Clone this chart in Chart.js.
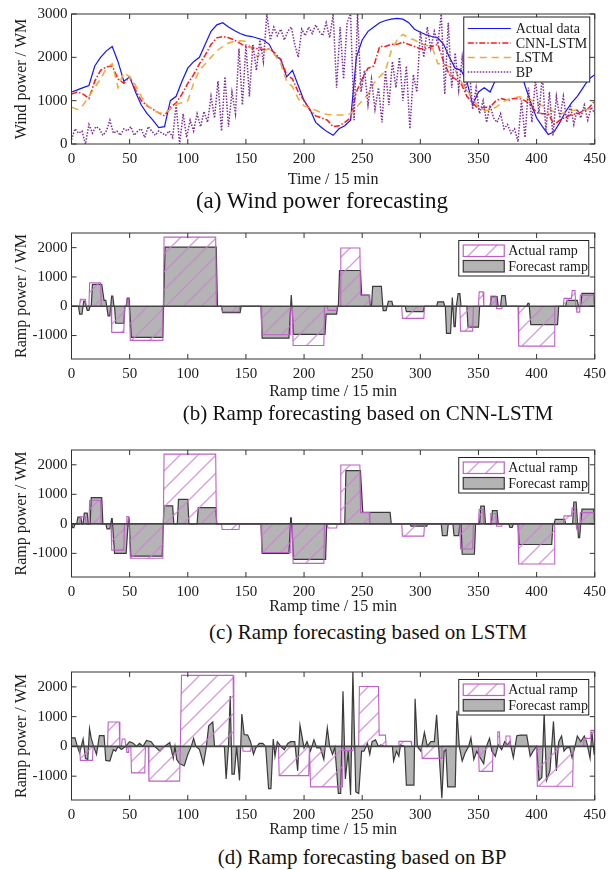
<!DOCTYPE html>
<html lang="en">
<head>
  <meta charset="UTF-8" />
  <title>Wind power and ramp forecasting</title>
  <script src="https://cdn.jsdelivr.net/npm/chart.js"></script>
  <style>
    body { margin: 0; background: #fff; }
    .wrap { position: relative; width: 612px; height: 870px; overflow: hidden; }
    .wrap canvas { position: absolute; left: 0; }
    .caption {
      position: absolute; white-space: nowrap; transform: translate(-50%, -50%);
      font-family: "Liberation Serif", serif; font-size: 21px; color: #111;
    }
  </style>
</head>
<body>
  <div class="wrap">
    <canvas id="c1" width="612" height="190" style="top:0px"></canvas>
    <div class="caption" style="left:322px; top:201px; font-size:23px">(a) Wind power forecasting</div>
    <canvas id="c2" width="612" height="182" style="top:220px"></canvas>
    <div class="caption" style="left:368px; top:413px">(b) Ramp forecasting based on CNN-LSTM</div>
    <canvas id="c3" width="612" height="180" style="top:437px"></canvas>
    <div class="caption" style="left:368px; top:632px">(c) Ramp forecasting based on LSTM</div>
    <canvas id="c4" width="612" height="181" style="top:659px"></canvas>
    <div class="caption" style="left:362px; top:857px">(d) Ramp forecasting based on BP</div>
  </div>

  <script>
    // ---- tick labels ----
    const xTicks = [0, 50, 100, 150, 200, 250, 300, 350, 400, 450];
    const powerTicks = [0, 1000, 2000, 3000];
    const rampTicks = [-1000, 0, 1000, 2000];

    // ---- (a) wind power, sampled every 5 steps (BP every 3) ----
    const time5 = Array.from({ length: 91 }, (_, i) => i * 5);
    const time3 = Array.from({ length: 151 }, (_, i) => i * 3);

    const actualPower = [1200, 1250, 1300, 1350, 1800, 2000, 2150, 2250, 1900, 1450,
      1550, 1200, 900, 700, 550, 380, 400, 1000, 1100, 1450,
      1750, 1900, 2000, 2300, 2600, 2750, 2800, 2700, 2620, 2550,
      2500, 2480, 2440, 2400, 2300, 2050, 1950, 1550, 1700, 1350,
      1000, 800, 500, 380, 280, 200, 350, 420, 550, 2000,
      2400, 2600, 2700, 2800, 2850, 2880, 2900, 2880, 2800, 2650,
      2580, 2520, 2480, 2450, 2300, 2000, 1750, 1700, 1450, 900,
      1200, 1300, 1200, 1500, 1700, 1800, 1750, 1800, 1350, 950,
      600, 400, 220, 280, 500, 750, 950, 1100, 1300, 1500, 1600];

    const cnnPower = [1150, 1200, 1150, 1050, 1450, 1700, 1780, 1800, 1500, 1400,
      1550, 1250, 1000, 880, 800, 720, 650, 850, 950, 1150,
      1400, 1600, 1850, 2050, 2300, 2450, 2480, 2450, 2400, 2320,
      2250, 2230, 2200, 2180, 2200, 2100, 1950, 1600, 1500, 1200,
      1000, 780, 650, 600, 550, 400, 420, 500, 600, 1200,
      1500, 1750, 1800, 2250, 2250, 2300, 2300, 2350, 2300, 2250,
      2200, 2200, 2250, 2300, 1900, 1600, 1500, 1400, 1100, 950,
      800, 850, 850, 1000, 1050, 1000, 1050, 1050, 1000, 900,
      720, 700, 700, 450, 550, 620, 680, 700, 760, 830, 1000];

    const lstmPower = [850, 800, 900, 1100, 1300, 1500, 1750, 1850, 1300, 1650,
      1550, 1350, 1100, 900, 780, 720, 700, 800, 920, 950,
      1000, 1400, 1700, 1850, 2000, 2150, 2250, 2330, 2370, 2380,
      2370, 2200, 2000, 2150, 2200, 2050, 1850, 1450, 1320, 1050,
      880, 830, 780, 720, 680, 670, 670, 670, 700, 850,
      1000, 1150, 1400, 1550, 1700, 2150, 2400, 2530, 2450, 2400,
      2320, 2280, 2250, 1850, 1850, 1780, 1700, 1450, 1250, 1050,
      850, 780, 780, 850, 950, 1030, 1060, 1090, 1060, 1015,
      950, 880, 820, 740, 700, 720, 780, 780, 780, 800, 860];

    const bpPower = [100, 350, 250, 300, 0, 450, 250, 400, 350, 200,
      300, 550, 250, 300, 200, 350, 300, 400, 200, 300,
      350, 150, 400, 300, 200, 300, 250, 200, 300, 150,
      900, 0, 700, 150, 550, 300, 700, 400, 750, 500,
      1100, 600, 1450, 300, 1550, 400, 1200, 700, 2200, 900,
      2300, 1100, 2300, 1700, 2400, 1900, 3000, 2400, 2700, 2500,
      2650, 2400, 2600, 2700, 2300, 2000, 2650, 2500, 2700, 2550,
      2750, 2600, 2500, 2800, 2450, 3000, 1300, 2700, 1500, 2800,
      3000, 550, 3000, 1200, 1700, 900, 1500, 800, 1300, 500,
      1700, 900, 1900, 1300, 2000, 1000, 1800, 350, 1600, 1200,
      2600, 2000, 2700, 2200, 2600, 2300, 3000, 1150, 2800, 1300,
      2100, 1250, 2000, 1200, 1800, 800, 1300, 700, 1000, 500,
      900, 600, 500, 700, 350, 450, 250, 350, 50, 1000,
      150, 1300, 500, 1500, 700, 1600, 300, 1200, 200, 1100,
      600, 1100, 500, 900, 450, 800, 600, 900, 550, 850, 700];

    // ---- ramps: [start, end, power] ----
    const actualRamp = [[7, 12, 240], [15, 25, 800], [34, 45, -890], [47, 49, 250],
      [50, 78, -1165], [79, 124, 2360], [129, 144, -190], [163, 188, -970],
      [190, 217, -1340], [220, 228, -140], [231, 248, 1990], [248, 256, 380],
      [284, 303, -415], [334, 345, -850], [350, 354, 490], [360, 365, 350],
      [365, 370, -80], [384, 415, -1360], [423, 430, 270], [430, 433, 540],
      [434, 437, -200], [437, 449, 380]];

    const cnnRamp = [[6, 9, -270], [9.5, 11.5, 180], [12.5, 15, -140], [17, 26, 750],
      [27, 29.5, 200], [30.5, 33, -330], [33.5, 35.5, 350], [37, 45, -580],
      [47, 49.5, 280], [50.5, 78.5, -1060], [79.5, 124.5, 2020], [129, 145, -220],
      [163, 187, -1090], [188, 189.5, 380], [190, 218, -960], [218, 228, -270],
      [229.5, 248.5, 1220], [248.5, 256, 380], [258, 266.5, 680], [267, 270.5, -150],
      [271.5, 275.5, 170], [287, 302.5, -185], [314, 320, 150], [321.5, 326, -925],
      [326.5, 327.5, 300], [328, 330, -700], [331.5, 334, 430], [340, 350, -710],
      [360, 366, 330], [369, 373, 360], [391.5, 393.5, 100], [394, 418, -630],
      [425, 435, 200], [438, 449, 440]];

    const lstmRamp = [[0, 2, -130], [4.5, 8, 230], [10, 13.5, 360], [16, 26, 885],
      [29.5, 33, -170], [33.5, 35, 180], [36, 47, -1000], [48, 49.5, 200],
      [50, 78, -1090], [78.5, 87, 610], [91, 100, 830], [108, 124, 550],
      [163, 187, -1000], [187.5, 189, 200], [190, 218.5, -1200], [235, 248.5, 1800],
      [249.5, 274, 390], [291, 305.5, -80], [318, 323, -400], [328, 333, -400],
      [335, 346.5, -1030], [351, 355, 600], [361, 366, 450], [376, 379, -120],
      [384, 413, -700], [415, 424, 150], [431, 434, 740], [435, 437, -470],
      [438, 449, 500]];

    const actualRampBP = [[7, 18, -470], [31, 41, 820], [43, 46, 250], [47, 49, -200],
      [51, 63, -890], [66, 93, -1165], [94, 139, 2385], [147, 154, -160],
      [178, 204, -980], [205, 233, -1360], [234, 242, -140], [247, 264, 2015],
      [264, 270, 380], [281, 292, 170], [301, 318, -400], [350, 362, -840],
      [366, 368, 490], [373, 377, 350], [400, 431, -1340], [440, 446, 270],
      [446, 449.5, 540]];

    const bpRampTime = [0, 3, 5, 7, 10, 12, 14, 15.5, 17, 19, 21.5, 24, 28, 29.5, 33, 36, 38, 40,
      43, 46.5, 50, 53, 56, 58.5, 61.5, 64.5, 68.5, 71.5, 76, 80, 84.5, 87.5, 89, 90.5,
      93, 97, 100, 103, 105, 107, 110, 113.5, 116, 118, 121.5, 123, 131.5, 133, 135,
      136.5, 138, 140, 142, 144.5, 146.5, 148.5, 151.5, 154, 156.5, 158.5, 161.5, 164.5,
      167, 169.5, 171.5, 173.5, 175, 177, 180, 183, 186, 188.5, 192, 194.5, 196.5, 200,
      202.5, 205.5, 208.5, 211, 214, 217, 220, 222, 224.5, 226.5, 229.5, 231.5, 233.5,
      235.5, 238, 240, 242, 244.5, 247, 249.5, 251.5, 254.5, 256.5, 258.5, 261.5, 264,
      266, 269, 276, 277, 279.5, 281.5, 283, 286.5, 288, 294.5, 295.5, 297.5, 300.5,
      303.5, 306, 309, 312, 314, 316, 318.5, 320.5, 322, 323.5, 330, 331.5, 333.5, 336,
      338.5, 341.5, 343.5, 346, 348.5, 351.5, 354.5, 356.5, 359.5, 361.5, 364.5, 367,
      370, 372.5, 375, 377, 380, 383, 386, 388.5, 391.5, 394.5, 397, 400, 402, 404.5,
      406.5, 408.5, 411.5, 414.5, 417, 419, 421.5, 423.5, 426, 428.5, 430.5, 433, 435,
      438, 441, 443, 446, 447.5, 449.5, 450];
    const bpRampPower = [290, 290, 0, -220, 250, -400, -440, 600, 270, 0, -270, 360, 360, -470, -490, -110, -160, 0,
      -100, 0, 160, 110, 0, 100, 0, 200, 160, 0, -160, 0, 130, -400, 0, -440,
      -580, -650, -270, 0, 270, 0, -100, -600, 0, 690, 820, 0, 0, -1090, 0,
      1690, -930, -930, 0, -1140, 1090, 400, 380, 160, -270, -50, 100, 100,
      0, -1420, -1420, 250, -330, 160, 0, -110, 100, 160, 160, -820, 710, -50,
      160, -160, 220, -50, -50, -440, 620, 0, -270, -30, -1580, -1580, 1850,
      -1090, -160, -1630, 2500, -1525, -1580, -160, -160, 100, -270, 160, 220, 0,
      50, 0, 0, -490, -160, -330, 50, 0, -1300, -1300, 1600, 0, -160,
      470, 0, 160, 160, 1060, -160, -1740, -160, -110, -1360, -1360, 1200, 0, -490,
      -220, 0, 290, -440, -160, -380, -580, -30, 270, -160, -330, 50,
      -110, 160, 50, 160, -380, 360, 380, 380, 380, -330, -160, 0, -1140, -1040,
      1140, -1140, -820, 840, -820, 160, 350, -160, -50, -30, -380, 0, 350,
      160, 350, 160, -400, 490, -270, 0];

    // ---- styling ----
    const FONT = '"Liberation Serif", serif';
    const INK = '#1a1a1a';
    const MAGENTA = '#bf5fc7';

    function zip(xs, ys) { return xs.map((x, i) => ({ x: x, y: ys[i] })); }

    // corner points of the ramp steps, slanted by w on each side
    function steps(segs, w) {
      const pts = [{ x: 0, y: 0 }];
      segs.forEach(([a, b, v], i) => {
        const prev = segs[i - 1], next = segs[i + 1];
        if (!prev || a - prev[1] > w) pts.push({ x: a, y: 0 });
        pts.push({ x: a + w, y: v }, { x: b, y: v });
        if (!next || next[0] - b > w) pts.push({ x: Math.min(b + w, 450), y: 0 });
      });
      pts.push({ x: 450, y: 0 });
      return pts;
    }

    function hatch() {
      const c = document.createElement('canvas');
      c.width = c.height = 18;
      const g = c.getContext('2d');
      g.strokeStyle = 'rgba(205,130,212,0.8)';
      g.lineWidth = 1.3;
      g.beginPath();
      g.moveTo(-2, 20); g.lineTo(20, -2);
      g.moveTo(-2, 2); g.lineTo(2, -2);
      g.moveTo(16, 20); g.lineTo(20, 16);
      g.stroke();
      return g.createPattern(c, 'repeat');
    }
    const hatchFill = hatch();

    // box frame with inward ticks, zero line and legend
    const framePlugin = {
      id: 'frame',
      afterDatasetsDraw(chart, args, opts) {
        const { ctx, chartArea: a, scales: { x, y } } = chart;
        ctx.save();
        if (opts.zeroLine) {
          const py = y.getPixelForValue(0);
          ctx.strokeStyle = '#444';
          ctx.lineWidth = 1.6;
          ctx.beginPath(); ctx.moveTo(a.left, py); ctx.lineTo(a.right, py); ctx.stroke();
        }
        ctx.strokeStyle = '#333';
        ctx.lineWidth = 1;
        ctx.strokeRect(a.left, a.top, a.width, a.height);
        ctx.beginPath();
        x.ticks.forEach(t => {
          const px = x.getPixelForValue(t.value);
          ctx.moveTo(px, a.bottom); ctx.lineTo(px, a.bottom - 5);
          ctx.moveTo(px, a.top); ctx.lineTo(px, a.top + 5);
        });
        y.ticks.forEach(t => {
          const py = y.getPixelForValue(t.value);
          ctx.moveTo(a.left, py); ctx.lineTo(a.left + 5, py);
          ctx.moveTo(a.right, py); ctx.lineTo(a.right - 5, py);
        });
        ctx.stroke();

        ctx.font = '14px ' + FONT;
        ctx.fillStyle = INK;
        ctx.textBaseline = 'middle';
        if (opts.legend === 'lines') {
          const bx = a.right - 131, by = a.top + 3;
          ctx.fillStyle = '#fff';
          ctx.fillRect(bx, by, 126, 65);
          ctx.strokeStyle = '#222';
          ctx.strokeRect(bx, by, 126, 65);
          chart.data.datasets.slice().reverse().forEach((d, i) => {
            const ry = by + 11.5 + i * 14.5;
            ctx.strokeStyle = d.borderColor;
            ctx.lineWidth = d.borderWidth;
            ctx.setLineDash(d.borderDash || []);
            ctx.beginPath(); ctx.moveTo(bx + 4, ry); ctx.lineTo(bx + 47, ry); ctx.stroke();
            ctx.setLineDash([]);
            ctx.fillStyle = INK;
            ctx.fillText(d.label, bx + 52, ry + 1);
          });
        } else if (opts.legend === 'ramp') {
          const bx = a.right - 136, by = a.top + 7.5;
          ctx.fillStyle = '#fff';
          ctx.fillRect(bx, by, 130, 35.5);
          ctx.strokeStyle = '#222';
          ctx.strokeRect(bx, by, 130, 35.5);
          chart.data.datasets.forEach((d, i) => {
            const ry = by + 4.5 + i * 15.5;
            ctx.fillStyle = d.backgroundColor;
            ctx.fillRect(bx + 4.5, ry, 41, 11.5);
            ctx.strokeStyle = d.borderColor;
            ctx.lineWidth = 1.2;
            ctx.strokeRect(bx + 4.5, ry, 41, 11.5);
            ctx.fillStyle = INK;
            ctx.fillText(d.label, bx + 49.5, ry + 6.5);
          });
        }
        ctx.restore();
      }
    };

    function scales(yMin, yMax, yTicks, xTitle, yTitle, xHeight) {
      const tickFont = { family: FONT, size: 15 };
      const titleFont = { family: FONT, size: 16 };
      return {
        x: {
          type: 'linear', min: 0, max: 450,
          afterBuildTicks: s => { s.ticks = xTicks.map(v => ({ value: v })); },
          afterFit: s => { s.height = xHeight; },
          grid: { display: false, drawTicks: false },
          border: { display: false },
          ticks: { font: tickFont, color: INK, padding: 6, maxRotation: 0, autoSkip: false,
                   callback: v => String(v) },
          title: { display: true, text: xTitle, font: titleFont, color: INK,
                   padding: { top: 0, bottom: 1 } }
        },
        y: {
          type: 'linear', min: yMin, max: yMax,
          afterBuildTicks: s => { s.ticks = yTicks.map(v => ({ value: v })); },
          afterFit: s => { s.width = 71.5; },
          grid: { display: false, drawTicks: false },
          border: { display: false },
          ticks: { font: tickFont, color: INK, padding: 4, callback: v => String(v) },
          title: { display: true, text: yTitle, font: titleFont, color: INK,
                   padding: { top: 12, bottom: 0 } }
        }
      };
    }

    function baseOptions(padTop, sc, frame) {
      return {
        responsive: false,
        animation: false,
        layout: { padding: { top: padTop, right: 15, left: 0, bottom: 0 } },
        elements: { point: { radius: 0 }, line: { tension: 0 } },
        plugins: { legend: { display: false }, tooltip: { enabled: false }, frame: frame },
        scales: sc
      };
    }

    // (a) wind power forecasting
    new Chart(document.getElementById('c1'), {
      type: 'line',
      data: {
        datasets: [
          { label: 'BP', data: zip(time3, bpPower), borderColor: '#7e2f9a',
            borderWidth: 1.5, borderDash: [1.5, 1.5], fill: false },
          { label: 'LSTM', data: zip(time5, lstmPower), borderColor: '#f2a93b',
            borderWidth: 1.5, borderDash: [7, 5], fill: false },
          { label: 'CNN-LSTM', data: zip(time5, cnnPower), borderColor: '#ff1a1a',
            borderWidth: 1.5, borderDash: [6, 2, 1.5, 2], fill: false },
          { label: 'Actual data', data: zip(time5, actualPower), borderColor: '#1414ff',
            borderWidth: 1.2, fill: false }
        ]
      },
      options: baseOptions(14, scales(0, 3000, powerTicks, 'Time / 15 min', 'Wind power / WM', 46),
        { legend: 'lines' }),
      plugins: [framePlugin]
    });

    function rampChart(id, padTop, xHeight, actualSegs, forecastData) {
      new Chart(document.getElementById(id), {
        type: 'line',
        data: {
          datasets: [
            { label: 'Actual ramp', data: steps(actualSegs, 0.6), borderColor: MAGENTA,
              backgroundColor: hatchFill, borderWidth: 1.1, fill: 'origin' },
            { label: 'Forecast ramp', data: forecastData, borderColor: '#3a3a3a',
              backgroundColor: '#b4b4b4', borderWidth: 1.2, fill: 'origin' }
          ]
        },
        options: baseOptions(padTop,
          scales(-1800, 2500, rampTicks, 'Ramp time / 15 min', 'Ramp power / WM', xHeight),
          { legend: 'ramp', zeroLine: true }),
        plugins: [framePlugin]
      });
    }

    rampChart('c2', 9, 43, actualRamp, steps(cnnRamp, 1));
    rampChart('c3', 9, 40, actualRamp, steps(lstmRamp, 1));
    rampChart('c4', 9, 40, actualRampBP, zip(bpRampTime, bpRampPower));
  </script>
</body>
</html>
